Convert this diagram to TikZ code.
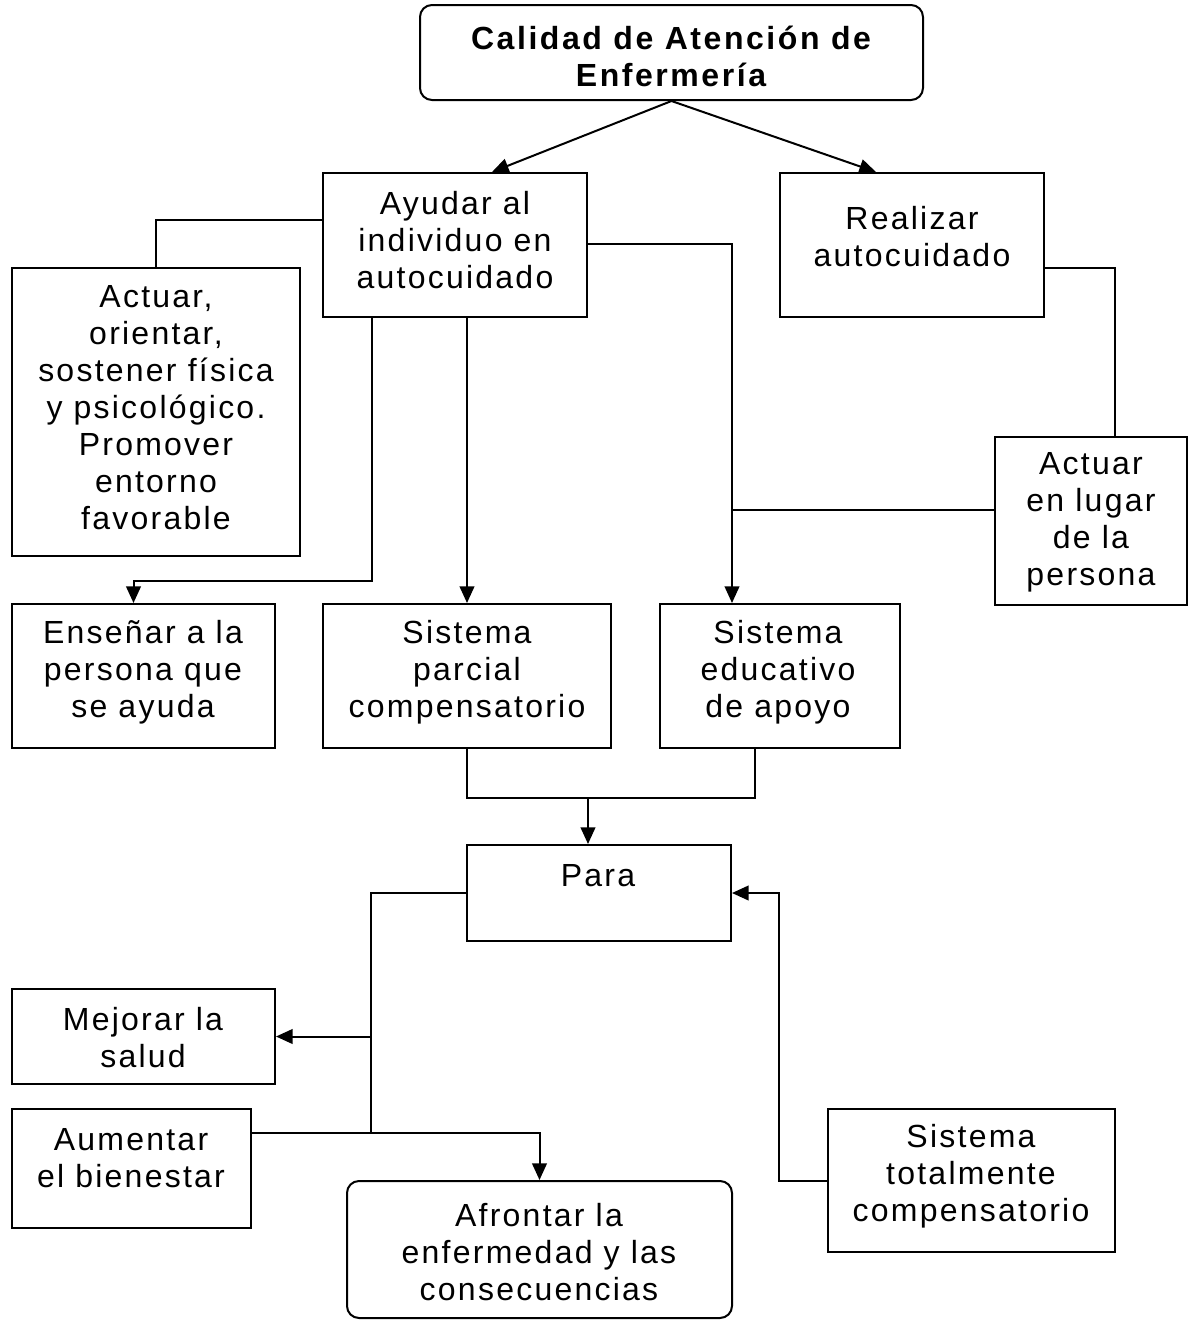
\documentclass[tikz,border=0pt]{standalone}
\usepackage{fontspec}
\setmainfont{Liberation Sans}[LetterSpace=7]
\newfontfamily\titlefont{Liberation Sans}[LetterSpace=8]
\usetikzlibrary{arrows.meta,calc}
\tikzset{
  box/.style={draw, line width=1.5pt, inner sep=0pt},
  rbox/.style={box, rounded corners=9pt},
  wh/.style 2 args={minimum width=#1*0.75pt, minimum height=#2*0.75pt},
  txt/.style={align=center, inner sep=0pt, font=\fontsize{24}{27.75}\selectfont},
  ttl/.style={align=center, inner sep=0pt, font=\titlefont\bfseries\fontsize{24}{27.75}\selectfont},
  conn/.style={line width=1.5pt},
  arr/.style={conn, -{Triangle[length=12.5pt,width=11pt]}},
}
\begin{document}
\begin{tikzpicture}[x=0.75pt,y=-0.75pt]
\useasboundingbox (0,0) rectangle (1189,1322);
% boxes
\node[rbox, wh={503}{95}] (title) at (671.5,52.5) {};
\node[box, wh={264}{144}] (ayudar) at (455,245) {};
\node[box, wh={264}{144}] (realizar) at (912,245) {};
\node[box, wh={288}{288}] (actuar) at (156,412) {};
\node[box, wh={192}{168}] (lugar) at (1091,521) {};
\node[box, wh={263}{144}] (ensenar) at (143.5,676) {};
\node[box, wh={288}{144}] (parcial) at (467,676) {};
\node[box, wh={240}{144}] (educativo) at (780,676) {};
\node[box, wh={264}{96}] (para) at (599,893) {};
\node[box, wh={263}{95}] (mejorar) at (143.5,1036.5) {};
\node[box, wh={239}{119}] (aumentar) at (131.5,1168.5) {};
\node[rbox, wh={385}{137}] (afrontar) at (539.5,1249.5) {};
\node[box, wh={287}{143}] (totalmente) at (971.5,1180.5) {};
% texts
\node[ttl] (t-title) at (671,56) {Calidad de Atención de\\Enfermería};
\node[txt] (t-ayudar) at (455,240) {Ayudar al\\individuo en\\autocuidado};
\node[txt] (t-realizar) at (912,237) {Realizar\\autocuidado};
\node[txt] (t-actuar) at (156,408) {Actuar,\\orientar,\\sostener física\\y psicológico.\\Promover\\entorno\\favorable};
\node[txt] (t-lugar) at (1091,522) {Actuar\\en lugar\\de la\\persona};
\node[txt] (t-ensenar) at (143,672) {Enseñar a la\\persona que\\se ayuda};
\node[txt] (t-parcial) at (467,672) {Sistema\\parcial\\compensatorio};
\node[txt] (t-educativo) at (778,672) {Sistema\\educativo\\de apoyo};
\node[txt] (t-para) at (598,876) {Para};
\node[txt] (t-mejorar) at (143,1038) {Mejorar la\\salud};
\node[txt] (t-aumentar) at (131,1158) {Aumentar\\el bienestar};
\node[txt] (t-afrontar) at (539,1252) {Afrontar la\\enfermedad y las\\consecuencias};
\node[txt] (t-totalmente) at (971,1176) {Sistema\\totalmente\\compensatorio};
% connectors
\draw[arr] (title.south) -- ($(ayudar.north)+(37,0)$);
\draw[arr] (title.south) -- ($(realizar.north)+(-36,0)$);
\draw[conn] ($(ayudar.west)+(0,-25)$) -| (actuar.north);
\draw[arr] ($(ayudar.south)+(-83,0)$) -- ++(0,263) -| ($(ensenar.north)+(-10,0)$);
\draw[arr] (ayudar.south -| parcial.north) -- (parcial.north);
\draw[arr] ($(ayudar.east)+(0,-1)$) -| ($(educativo.north)+(-48,0)$);
\draw[conn] ($(realizar.east)+(0,23)$) -| ($(lugar.north)+(24,0)$);
\draw[conn] ($(lugar.west)+(0,-11)$) -- ++(-263,0);
\draw[conn] (parcial.south) -- ++(0,49) coordinate (m1) -| ($(educativo.south)+(-25,0)$);
\coordinate (m2) at ($(m1)+(121,0)$);
\draw[arr] (m2) -- (m2 |- para.north);
\draw[conn] (para.west) -- ++(-95,0) coordinate (pv) -- ++(0,240);
\draw[arr] (pv |- mejorar.east) -- (mejorar.east);
\draw[arr] ($(aumentar.east)+(0,-35.5)$) -| (afrontar.north);
\draw[arr] (totalmente.west) -- ++(-48,0) |- (para.east);
\end{tikzpicture}
\end{document}
